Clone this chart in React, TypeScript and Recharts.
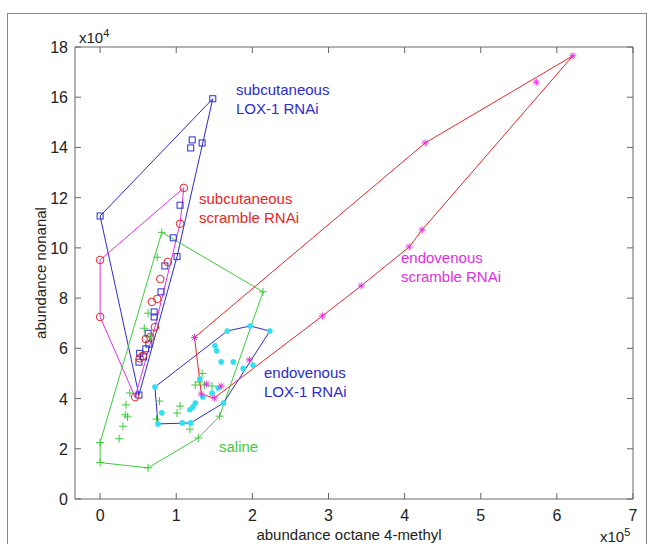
import React from "react"
import { ScatterChart, Scatter, XAxis, YAxis } from "recharts"

// values in units of 1e5 (x) and 1e4 (y)
const subLoxPoints: [number, number][] = [
  [0, 11.27], [1.48, 15.94], [1.21, 14.3], [1.19, 13.98], [1.34, 14.18], [1.05, 11.7],
  [0.96, 10.4], [1.01, 9.65], [0.85, 9.28], [0.8, 8.25], [0.71, 7.45], [0.71, 7.25],
  [0.63, 6.6], [0.64, 6.17], [0.6, 5.98], [0.52, 5.8], [0.51, 5.45], [0.57, 5.66], [0.51, 4.14],
]
const subLoxHull: [number, number][] = [[0, 11.27], [1.48, 15.94], [1.01, 9.65], [0.51, 4.14], [0, 11.27]]

const subScramblePoints: [number, number][] = [
  [0, 9.52], [0, 7.25], [0.46, 4.06], [1.1, 12.39], [1.05, 10.96], [0.89, 9.44], [0.79, 8.76],
  [0.75, 7.97], [0.68, 7.85], [0.72, 6.85], [0.66, 6.45], [0.6, 6.37], [0.56, 5.7], [0.52, 5.6],
]
const subScrambleHull: [number, number][] = [[0, 9.52], [1.1, 12.39], [1.05, 10.96], [0.72, 6.85], [0.46, 4.06], [0, 7.25], [0, 9.52]]

const salinePoints: [number, number][] = [
  [0, 2.25], [0, 1.45], [0.63, 1.24], [1.29, 2.43], [1.57, 3.3], [2.14, 8.25], [0.81, 10.62],
  [0.75, 9.63], [0.63, 7.4], [0.58, 6.8], [0.66, 6.45], [0.39, 4.22], [0.34, 3.75], [0.33, 3.35],
  [0.36, 3.27], [0.3, 2.9], [0.25, 2.4], [0.78, 3.9], [0.74, 3.18], [1.01, 3.42], [1.05, 3.7],
  [1.18, 2.78], [1.25, 4.54], [1.34, 5.0], [1.3, 4.66], [1.37, 4.54], [1.47, 4.5],
]
const salineHull: [number, number][] = [[0, 2.25], [0, 1.45], [0.63, 1.24], [1.29, 2.43], [1.57, 3.3], [2.14, 8.25], [0.81, 10.62], [0, 2.25]]

const endoLoxPoints: [number, number][] = [
  [0.72, 4.46], [1.67, 6.69], [1.97, 6.89], [2.23, 6.69], [1.62, 3.82], [1.19, 3.03], [0.76, 2.99],
  [1.51, 6.1], [1.53, 5.9], [1.59, 5.46], [1.75, 5.46], [1.88, 5.2], [2.01, 5.33], [1.31, 4.78],
  [1.55, 4.42], [1.47, 4.22], [1.35, 4.06], [1.25, 3.82], [1.22, 3.67], [1.18, 3.55], [0.81, 3.43], [1.08, 3.03],
]
const endoLoxHull: [number, number][] = [[0.72, 4.46], [1.67, 6.69], [1.97, 6.89], [2.23, 6.69], [1.62, 3.82], [1.19, 3.03], [0.76, 2.99], [0.72, 4.46]]

const endoScramblePoints: [number, number][] = [
  [1.24, 6.43], [4.27, 14.18], [6.21, 17.65], [4.23, 10.72], [4.06, 10.04], [3.43, 8.49], [2.92, 7.29],
  [1.5, 4.02], [1.33, 4.18], [5.73, 16.6], [1.96, 5.54], [1.59, 4.5], [1.4, 4.58],
]
const endoScrambleHull: [number, number][] = [[1.24, 6.43], [4.27, 14.18], [6.21, 17.65], [4.23, 10.72], [4.06, 10.04], [3.43, 8.49], [2.92, 7.29], [1.5, 4.02], [1.33, 4.18], [1.24, 6.43]]

const xTicks = [0, 1, 2, 3, 4, 5, 6, 7]
const yTicks = [0, 2, 4, 6, 8, 10, 12, 14, 16, 18]

const BLUE = "#2b2bd2"
const RED = "#e82626"
const GREEN = "#3ccc3c"
const MAGENTA = "#e22ee2"
const CYAN = "#2ee0f0"
const AXIS = "#666"
const FONT = "'Liberation Sans', Arial, sans-serif"

const toXY = (pts: [number, number][]) => pts.map(([x, y]) => ({ x, y }))

const Square = (p: any) => <rect x={p.cx - 3} y={p.cy - 3} width={6} height={6} fill="none" stroke={BLUE} strokeWidth={1} />
const Ring = (p: any) => <circle cx={p.cx} cy={p.cy} r={3.8} fill="none" stroke={RED} strokeWidth={1} />
const Plus = (p: any) => (
  <g stroke={GREEN} strokeWidth={1}>
    <line x1={p.cx - 4} x2={p.cx + 4} y1={p.cy} y2={p.cy} />
    <line x1={p.cx} x2={p.cx} y1={p.cy - 4} y2={p.cy + 4} />
  </g>
)
const Dot = (p: any) => <circle cx={p.cx} cy={p.cy} r={2.8} fill={CYAN} />
const Star = (p: any) => (
  <g stroke={MAGENTA} strokeWidth={1}>
    <line x1={p.cx - 3.5} x2={p.cx + 3.5} y1={p.cy} y2={p.cy} />
    <line x1={p.cx} x2={p.cx} y1={p.cy - 3.5} y2={p.cy + 3.5} />
    <line x1={p.cx - 2.5} x2={p.cx + 2.5} y1={p.cy - 2.5} y2={p.cy + 2.5} />
    <line x1={p.cx - 2.5} x2={p.cx + 2.5} y1={p.cy + 2.5} y2={p.cy - 2.5} />
  </g>
)
const NoShape = () => <g />

const BottomTick = (p: any) => (
  <g>
    <line x1={p.x} x2={p.x} y1={p.y} y2={p.y - 6} stroke={AXIS} />
    <text x={p.x} y={p.y + 22} textAnchor="middle" fontSize={16} fontFamily={FONT} fill="#222">{p.payload.value}</text>
  </g>
)
const LeftTick = (p: any) => (
  <g>
    <line x1={p.x} x2={p.x + 6} y1={p.y} y2={p.y} stroke={AXIS} />
    <text x={p.x - 7} y={p.y + 6} textAnchor="end" fontSize={16} fontFamily={FONT} fill="#222">{p.payload.value}</text>
  </g>
)
const TopTick = (p: any) => <line x1={p.x} x2={p.x} y1={p.y} y2={p.y + 6} stroke={AXIS} />
const RightTick = (p: any) => <line x1={p.x} x2={p.x - 6} y1={p.y} y2={p.y} stroke={AXIS} />

const label = (left: number, top: number, color: string, lines: string[]) => (
  <div style={{ position: "absolute", left, top, color, fontFamily: FONT, fontSize: 15, lineHeight: "19px", whiteSpace: "nowrap" }}>
    {lines.map((l) => <div key={l}>{l}</div>)}
  </div>
)

export default function App() {
  const groups = [
    { hull: subLoxHull, pts: subLoxPoints, color: BLUE, shape: Square },
    { hull: subScrambleHull, pts: subScramblePoints, color: MAGENTA, shape: Ring },
    { hull: salineHull, pts: salinePoints, color: GREEN, shape: Plus },
    { hull: endoLoxHull, pts: endoLoxPoints, color: BLUE, shape: Dot },
    { hull: endoScrambleHull, pts: endoScramblePoints, color: RED, shape: Star },
  ]
  return (
    <div style={{ position: "absolute", left: 0, top: 0, width: 655, height: 544, overflow: "hidden", background: "#fff" }}>
      <div style={{ position: "absolute", left: 7, top: 13, width: 638, height: 600, border: "1.5px solid #888" }} />
      <ScatterChart width={655} height={544} margin={{ top: 46, right: 21, left: 0, bottom: 0 }}>
        <XAxis type="number" dataKey="x" domain={[-0.33, 7]} ticks={xTicks} interval={0} allowDataOverflow
          height={45} tickSize={0} tickMargin={0} tickLine={false} axisLine={{ stroke: AXIS }} tick={BottomTick} />
        <XAxis xAxisId="top" orientation="top" type="number" dataKey="x" domain={[-0.33, 7]} ticks={xTicks} interval={0}
          allowDataOverflow height={1} tickSize={0} tickMargin={0} tickLine={false} axisLine={{ stroke: AXIS }} tick={TopTick} />
        <YAxis type="number" dataKey="y" domain={[0, 18]} ticks={yTicks} interval={0} allowDataOverflow
          width={75} tickSize={0} tickMargin={0} tickLine={false} axisLine={{ stroke: AXIS }} tick={LeftTick} />
        <YAxis yAxisId="right" orientation="right" type="number" dataKey="y" domain={[0, 18]} ticks={yTicks} interval={0}
          allowDataOverflow width={1} tickSize={0} tickMargin={0} tickLine={false} axisLine={{ stroke: AXIS }} tick={RightTick} />
        {/* invisible series so the top/right frame axes get drawn */}
        <Scatter xAxisId="top" yAxisId="right" data={toXY(endoScramblePoints)} shape={NoShape} isAnimationActive={false} />
        {groups.map((g, i) => (
          <Scatter key={`hull-${i}`} data={toXY(g.hull)} line={{ stroke: g.color, strokeWidth: 1 }} lineType="joint"
            shape={NoShape} isAnimationActive={false} />
        ))}
        {groups.map((g, i) => (
          <Scatter key={`pts-${i}`} data={toXY(g.pts)} shape={g.shape} isAnimationActive={false} />
        ))}
      </ScatterChart>

      {label(236, 80, BLUE, ["subcutaneous", "LOX-1 RNAi"])}
      {label(199, 189, RED, ["subcutaneous", "scramble RNAi"])}
      {label(401, 248, MAGENTA, ["endovenous", "scramble RNAi"])}
      {label(264, 363, BLUE, ["endovenous", "LOX-1 RNAi"])}
      {label(219, 437, GREEN, ["saline"])}

      <div style={{ position: "absolute", left: 40, top: 273, transform: "translate(-50%, -50%) rotate(-90deg)", fontFamily: FONT, fontSize: 15, color: "#222", whiteSpace: "nowrap" }}>
        abundance nonanal
      </div>
      <div style={{ position: "absolute", left: 349, top: 534, transform: "translate(-50%, -50%)", fontFamily: FONT, fontSize: 15, lineHeight: "17px", color: "#222", whiteSpace: "nowrap" }}>
        abundance octane 4-methyl
      </div>
      <div style={{ position: "absolute", left: 79, top: 29, fontFamily: FONT, fontSize: 15, lineHeight: "17px", color: "#222", whiteSpace: "nowrap" }}>
        x10<sup style={{ fontSize: 11, lineHeight: 0 }}>4</sup>
      </div>
      <div style={{ position: "absolute", left: 600, top: 528, fontFamily: FONT, fontSize: 15, lineHeight: "17px", color: "#222", whiteSpace: "nowrap" }}>
        x10<sup style={{ fontSize: 11, lineHeight: 0 }}>5</sup>
      </div>
    </div>
  )
}
